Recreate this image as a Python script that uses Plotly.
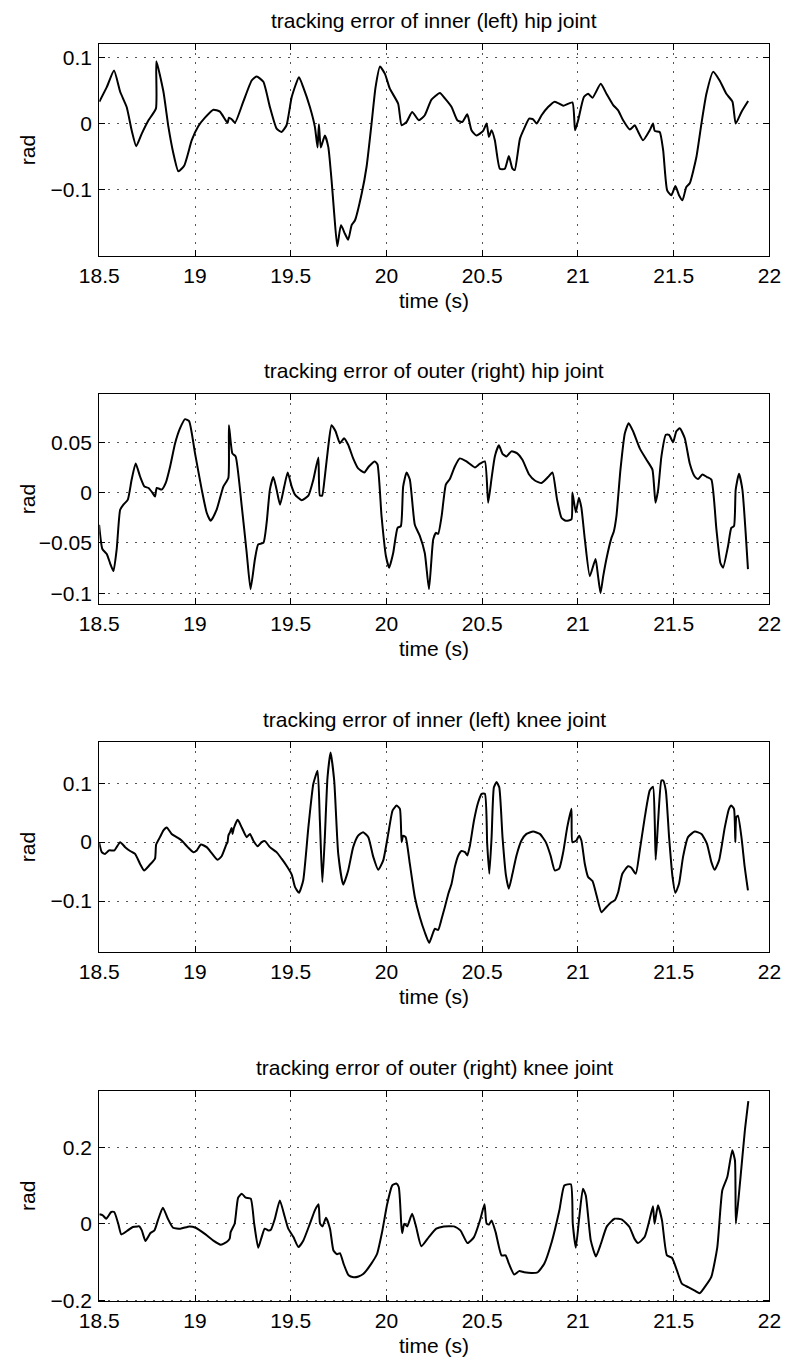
import plotly.graph_objects as go

# ---------------- data ----------------
t_hip_in = [18.5, 18.539, 18.577, 18.609, 18.643, 18.669, 18.693, 18.722, 18.757, 18.796, 18.798, 18.835, 18.861, 18.887, 18.913, 18.944, 18.983, 19.017, 19.052, 19.096, 19.13, 19.17, 19.177, 19.19, 19.209, 19.252, 19.296, 19.322, 19.357, 19.391, 19.426, 19.452, 19.478, 19.505, 19.543, 19.565, 19.6, 19.626, 19.64, 19.647, 19.657, 19.678, 19.696, 19.713, 19.727, 19.743, 19.762, 19.783, 19.8, 19.818, 19.835, 19.87, 19.896, 19.922, 19.943, 19.966, 19.992, 20.017, 20.061, 20.079, 20.105, 20.134, 20.169, 20.2, 20.235, 20.279, 20.305, 20.34, 20.37, 20.396, 20.422, 20.444, 20.47, 20.505, 20.523, 20.535, 20.549, 20.566, 20.592, 20.618, 20.639, 20.658, 20.67, 20.697, 20.723, 20.745, 20.766, 20.784, 20.81, 20.844, 20.879, 20.923, 20.971, 20.985, 21.001, 21.031, 21.053, 21.076, 21.119, 21.149, 21.184, 21.21, 21.236, 21.271, 21.297, 21.309, 21.34, 21.375, 21.392, 21.401, 21.427, 21.445, 21.466, 21.488, 21.509, 21.528, 21.546, 21.566, 21.584, 21.619, 21.645, 21.671, 21.706, 21.74, 21.775, 21.807, 21.824, 21.854, 21.889]
e_hip_in = [0.033, 0.055, 0.080, 0.048, 0.025, -0.010, -0.034, -0.015, 0.005, 0.023, 0.094, 0.048, -0.005, -0.045, -0.072, -0.063, -0.025, -0.004, 0.009, 0.021, 0.018, 0.001, 0.009, 0.007, 0.0015, 0.033, 0.065, 0.071, 0.063, 0.025, -0.0075, -0.0126, -0.0025, 0.040, 0.070, 0.055, 0.025, -0.005, -0.036, -0.001, -0.036, -0.018, -0.035, -0.085, -0.136, -0.185, -0.153, -0.166, -0.175, -0.153, -0.146, -0.106, -0.065, 0.0, 0.055, 0.086, 0.075, 0.053, 0.030, -0.0025, 0.0025, 0.0176, 0.005, 0.0126, 0.036, 0.046, 0.038, 0.025, 0.005, 0.0025, 0.014, -0.010, -0.018, -0.011, 0.0, -0.020, -0.010, -0.025, -0.068, -0.068, -0.049, -0.068, -0.070, -0.023, -0.005, 0.0075, 0.0065, 0.0, 0.0126, 0.025, 0.033, 0.027, 0.032, -0.010, 0.005, 0.040, 0.045, 0.039, 0.060, 0.045, 0.028, 0.020, 0.005, -0.009, -0.0025, -0.009, -0.025, -0.010, 0.0, -0.011, -0.0126, -0.040, -0.1005, -0.108, -0.094, -0.108, -0.1156, -0.0955, -0.090, -0.050, 0.0, 0.045, 0.078, 0.065, 0.045, 0.033, 0.0, 0.0176, 0.034]

t_hip_out = [18.499, 18.516, 18.539, 18.556, 18.574, 18.591, 18.609, 18.626, 18.649, 18.669, 18.69, 18.713, 18.736, 18.757, 18.778, 18.791, 18.8, 18.826, 18.847, 18.87, 18.896, 18.922, 18.948, 18.969, 19.0, 19.035, 19.061, 19.082, 19.113, 19.148, 19.174, 19.177, 19.195, 19.212, 19.244, 19.27, 19.29, 19.313, 19.33, 19.357, 19.374, 19.391, 19.409, 19.426, 19.444, 19.466, 19.484, 19.505, 19.522, 19.557, 19.592, 19.618, 19.644, 19.652, 19.664, 19.678, 19.696, 19.713, 19.734, 19.757, 19.778, 19.8, 19.826, 19.852, 19.884, 19.908, 19.939, 19.953, 19.974, 19.997, 20.014, 20.035, 20.058, 20.075, 20.087, 20.105, 20.122, 20.148, 20.174, 20.2, 20.222, 20.244, 20.258, 20.27, 20.288, 20.31, 20.331, 20.357, 20.383, 20.418, 20.462, 20.488, 20.514, 20.531, 20.549, 20.566, 20.587, 20.606, 20.627, 20.653, 20.683, 20.71, 20.745, 20.775, 20.81, 20.844, 20.867, 20.891, 20.914, 20.937, 20.966, 20.971, 20.989, 21.005, 21.018, 21.036, 21.062, 21.092, 21.105, 21.118, 21.132, 21.152, 21.175, 21.187, 21.201, 21.222, 21.245, 21.265, 21.288, 21.323, 21.358, 21.389, 21.405, 21.419, 21.436, 21.459, 21.476, 21.497, 21.514, 21.532, 21.558, 21.584, 21.61, 21.627, 21.65, 21.674, 21.697, 21.723, 21.744, 21.758, 21.784, 21.801, 21.815, 21.824, 21.841, 21.859, 21.876, 21.888]
e_hip_out = [-0.032, -0.056, -0.061, -0.070, -0.078, -0.056, -0.017, -0.012, -0.007, 0.013, 0.029, 0.016, 0.006, 0.0046, -0.0003, -0.004, 0.0046, 0.003, 0.0096, 0.026, 0.049, 0.064, 0.073, 0.071, 0.039, 0.003, -0.020, -0.028, -0.017, 0.006, 0.0145, 0.067, 0.039, 0.036, -0.0135, -0.060, -0.096, -0.066, -0.0515, -0.050, -0.030, 0.003, 0.0155, 0.003, -0.012, 0.006, 0.020, 0.006, -0.002, -0.0076, -0.003, 0.0129, 0.035, -0.003, -0.003, 0.016, 0.046, 0.067, 0.061, 0.049, 0.054, 0.0475, 0.034, 0.024, 0.020, 0.026, 0.031, 0.028, -0.023, -0.063, -0.0746, -0.060, -0.035, -0.0333, 0.006, 0.020, 0.013, -0.032, -0.043, -0.060, -0.096, -0.0465, -0.040, -0.041, -0.0234, 0.008, 0.0135, 0.026, 0.034, 0.031, 0.025, 0.0287, 0.031, -0.010, 0.0145, 0.036, 0.047, 0.0386, 0.036, 0.041, 0.039, 0.0327, 0.018, 0.012, 0.0096, 0.0155, 0.020, -0.007, -0.025, -0.028, -0.0267, 0.0, -0.0195, -0.005, -0.015, -0.0465, -0.083, -0.066, -0.083, -0.100, -0.083, -0.063, -0.045, -0.039, -0.0234, 0.0228, 0.059, 0.069, 0.061, 0.044, 0.0327, 0.0228, -0.010, 0.003, 0.036, 0.0574, 0.0574, 0.050, 0.061, 0.064, 0.054, 0.029, 0.016, 0.0135, 0.018, 0.0155, 0.0129, -0.036, -0.070, -0.0746, -0.053, -0.035, -0.0333, 0.003, 0.0188, 0.003, -0.040, -0.076]

t_knee_in = [18.499, 18.513, 18.53, 18.551, 18.579, 18.609, 18.635, 18.661, 18.687, 18.713, 18.734, 18.765, 18.791, 18.797, 18.817, 18.835, 18.852, 18.878, 18.904, 18.93, 18.962, 18.991, 19.009, 19.031, 19.061, 19.087, 19.118, 19.139, 19.165, 19.17, 19.174, 19.183, 19.191, 19.196, 19.203, 19.223, 19.244, 19.27, 19.287, 19.304, 19.327, 19.348, 19.365, 19.391, 19.426, 19.452, 19.478, 19.505, 19.522, 19.543, 19.565, 19.592, 19.618, 19.64, 19.652, 19.665, 19.678, 19.692, 19.708, 19.727, 19.748, 19.774, 19.8, 19.826, 19.852, 19.878, 19.905, 19.931, 19.957, 19.983, 20.009, 20.032, 20.053, 20.07, 20.079, 20.087, 20.1, 20.122, 20.148, 20.174, 20.2, 20.223, 20.244, 20.253, 20.27, 20.288, 20.305, 20.323, 20.34, 20.357, 20.375, 20.392, 20.41, 20.422, 20.436, 20.457, 20.479, 20.497, 20.514, 20.526, 20.537, 20.549, 20.561, 20.575, 20.589, 20.606, 20.624, 20.639, 20.658, 20.679, 20.705, 20.731, 20.766, 20.801, 20.832, 20.857, 20.879, 20.902, 20.923, 20.944, 20.966, 20.971, 20.992, 21.006, 21.018, 21.036, 21.053, 21.076, 21.097, 21.123, 21.149, 21.175, 21.192, 21.21, 21.232, 21.262, 21.279, 21.302, 21.323, 21.349, 21.375, 21.392, 21.401, 21.406, 21.419, 21.436, 21.445, 21.459, 21.476, 21.494, 21.509, 21.528, 21.549, 21.575, 21.61, 21.645, 21.674, 21.697, 21.714, 21.737, 21.767, 21.789, 21.801, 21.815, 21.822, 21.827, 21.836, 21.854, 21.871, 21.888]
e_knee_in = [0.0, -0.017, -0.020, -0.014, -0.014, 0.0, -0.0085, -0.015, -0.020, -0.037, -0.048, -0.038, -0.028, -0.004, 0.0085, 0.020, 0.025, 0.014, 0.0085, 0.0028, -0.0085, -0.017, -0.014, -0.004, -0.0085, -0.0186, -0.030, -0.024, -0.0028, 0.0, 0.011, 0.017, 0.024, 0.014, 0.024, 0.038, 0.025, 0.0085, 0.014, 0.0028, -0.007, 0.0, 0.0017, -0.0085, -0.017, -0.028, -0.040, -0.055, -0.076, -0.086, -0.065, 0.025, 0.099, 0.121, 0.037, -0.068, 0.0085, 0.110, 0.152, 0.104, -0.020, -0.072, -0.048, -0.0085, 0.011, 0.017, 0.0085, -0.025, -0.047, -0.031, 0.014, 0.054, 0.062, 0.0565, 0.0, 0.011, 0.0085, -0.037, -0.093, -0.127, -0.153, -0.171, -0.153, -0.147, -0.149, -0.130, -0.110, -0.0876, -0.0706, -0.042, -0.0226, -0.015, -0.017, -0.0226, -0.0056, 0.0367, 0.0678, 0.082, 0.082, -0.003, -0.0537, 0.0085, 0.093, 0.102, 0.093, 0.0085, -0.0565, -0.079, -0.0537, -0.0226, 0.0028, 0.014, 0.018, 0.014, 0.0, -0.0226, -0.048, -0.045, -0.017, 0.025, 0.0565, 0.0, 0.0028, 0.011, 0.0028, -0.037, -0.059, -0.066, -0.090, -0.119, -0.110, -0.102, -0.099, -0.085, -0.0537, -0.041, -0.0435, -0.0537, -0.014, 0.042, 0.0876, 0.094, 0.0367, -0.030, 0.0367, 0.1045, 0.1045, 0.0876, 0.0085, -0.059, -0.086, -0.0706, -0.025, 0.0085, 0.018, 0.014, -0.0028, -0.034, -0.047, -0.031, 0.025, 0.0565, 0.062, 0.0565, 0.0, 0.042, 0.045, 0.0085, -0.042, -0.082]

t_knee_out = [18.5, 18.518, 18.536, 18.562, 18.578, 18.599, 18.615, 18.649, 18.675, 18.701, 18.709, 18.722, 18.741, 18.767, 18.788, 18.806, 18.832, 18.858, 18.885, 18.924, 18.971, 19.003, 19.055, 19.094, 19.134, 19.165, 19.181, 19.186, 19.207, 19.225, 19.244, 19.265, 19.291, 19.309, 19.33, 19.348, 19.364, 19.383, 19.396, 19.417, 19.443, 19.469, 19.487, 19.514, 19.54, 19.566, 19.6, 19.626, 19.645, 19.653, 19.666, 19.684, 19.705, 19.723, 19.742, 19.757, 19.776, 19.802, 19.828, 19.854, 19.88, 19.92, 19.951, 19.977, 20.004, 20.03, 20.051, 20.064, 20.077, 20.082, 20.093, 20.108, 20.134, 20.155, 20.182, 20.221, 20.26, 20.3, 20.352, 20.386, 20.423, 20.457, 20.491, 20.512, 20.523, 20.536, 20.549, 20.57, 20.601, 20.622, 20.64, 20.667, 20.693, 20.719, 20.758, 20.79, 20.824, 20.863, 20.903, 20.929, 20.963, 20.973, 20.989, 21.007, 21.026, 21.041, 21.067, 21.094, 21.12, 21.151, 21.191, 21.23, 21.269, 21.295, 21.314, 21.348, 21.374, 21.392, 21.4, 21.418, 21.439, 21.465, 21.491, 21.517, 21.543, 21.576, 21.61, 21.636, 21.662, 21.696, 21.728, 21.754, 21.78, 21.806, 21.82, 21.825, 21.846, 21.872, 21.89]
e_knee_out = [0.0245, 0.022, 0.013, 0.0306, 0.0306, 0.0, -0.028, -0.0175, -0.0087, -0.007, -0.007, -0.0175, -0.045, -0.0245, -0.0175, 0.0087, 0.042, 0.013, -0.0105, -0.013, -0.007, -0.0105, -0.028, -0.0437, -0.055, -0.048, -0.039, -0.022, 0.0, 0.068, 0.0786, 0.068, 0.0655, 0.0, -0.063, -0.035, -0.013, -0.0175, -0.016, 0.013, 0.061, 0.0175, -0.013, -0.035, -0.061, -0.0437, 0.0, 0.035, 0.0507, 0.0, -0.007, 0.0157, -0.013, -0.070, -0.080, -0.077, -0.105, -0.135, -0.140, -0.138, -0.131, -0.105, -0.0786, -0.022, 0.052, 0.100, 0.105, 0.096, 0.0, -0.0245, 0.0, -0.007, 0.026, -0.0087, -0.059, -0.035, -0.013, -0.007, -0.007, -0.0175, -0.0507, -0.035, 0.013, 0.0507, 0.0, -0.002, 0.0087, -0.022, -0.083, -0.083, -0.105, -0.133, -0.124, -0.127, -0.129, -0.127, -0.105, -0.048, 0.035, 0.100, 0.103, 0.0, -0.063, 0.0175, 0.0917, 0.074, -0.0437, -0.0856, -0.0524, -0.007, 0.013, 0.0105, -0.0087, -0.039, -0.0507, -0.035, 0.0105, 0.0454, 0.0, 0.048, 0.0087, -0.083, -0.089, -0.122, -0.157, -0.166, -0.175, -0.182, -0.166, -0.14, -0.061, 0.0873, 0.122, 0.192, 0.166, 0.0, 0.105, 0.2445, 0.321]

titles = ["tracking error of inner (left) hip joint",
          "tracking error of outer (right) hip joint",
          "tracking error of inner (left) knee joint",
          "tracking error of outer (right) knee joint"]
x_ticks = [18.5, 19, 19.5, 20, 20.5, 21, 21.5, 22]
x_ticktext = ["18.5", "19", "19.5", "20", "20.5", "21", "21.5", "22"]
y_ticks = [[-0.1, 0, 0.1], [-0.1, -0.05, 0, 0.05], [-0.1, 0, 0.1], [-0.2, 0, 0.2]]
y_ticktext = [["\u22120.1", "0", "0.1"], ["\u22120.1", "\u22120.05", "0", "0.05"],
              ["\u22120.1", "0", "0.1"], ["\u22120.2", "0", "0.2"]]
y_ranges = [[-0.2, 0.12], [-0.111, 0.098], [-0.187, 0.17], [-0.203, 0.348]]
series_t = [t_hip_in, t_hip_out, t_knee_in, t_knee_out]
series_e = [e_hip_in, e_hip_out, e_knee_in, e_knee_out]

# ---------------- layout ----------------
W, H = 787, 1360
FONT = "Liberation Sans, Arial, Helvetica, sans-serif"
x_left, x_right = 99.3, 769.4
panel_px = [(44.0, 256.3), (394.0, 604.3), (742.0, 952.3), (1090.7, 1301.3)]

fig = go.Figure()
layout = dict(width=W, height=H, margin=dict(l=0, r=0, t=0, b=0, autoexpand=False),
              paper_bgcolor="white", plot_bgcolor="white", showlegend=False,
              font=dict(family=FONT, size=21, color="black"))
annotations = []
for i in range(4):
    n = "" if i == 0 else str(i + 1)
    fig.add_trace(go.Scatter(x=series_t[i], y=series_e[i], mode="lines",
                             line=dict(color="black", width=2, shape="spline", smoothing=0.5),
                             xaxis="x" + n, yaxis="y" + n, hoverinfo="skip"))
    top, bot = panel_px[i]
    axcommon = dict(showline=True, linecolor="black", linewidth=1.3, mirror="allticks",
                    ticks="inside", ticklen=6, tickwidth=1, tickcolor="black",
                    showgrid=True, gridcolor="#555555", gridwidth=1, griddash="2px,7px",
                    zeroline=False, automargin=False,
                    tickfont=dict(family=FONT, size=21, color="black"))
    layout["xaxis" + n] = dict(axcommon, domain=[x_left / W, x_right / W], range=[18.5, 22],
                               tickmode="array", tickvals=x_ticks, ticktext=x_ticktext,
                               anchor="y" + n)
    layout["yaxis" + n] = dict(axcommon, domain=[1 - bot / H, 1 - top / H], range=y_ranges[i],
                               tickmode="array", tickvals=y_ticks[i], ticktext=y_ticktext[i],
                               anchor="x" + n, ticklabelstandoff=2)
    xc = (x_left + x_right) / 2 / W
    annotations.append(dict(text=titles[i], x=xc, y=1 - (top - 23) / H, xref="paper", yref="paper",
                            showarrow=False, xanchor="center", yanchor="middle",
                            font=dict(family=FONT, size=21, color="black")))
    annotations.append(dict(text="time (s)", x=xc, y=1 - (bot + 44) / H, xref="paper", yref="paper",
                            showarrow=False, xanchor="center", yanchor="middle",
                            font=dict(family=FONT, size=21, color="black")))
    annotations.append(dict(text="rad", x=27 / W, y=1 - (top + bot) / 2 / H, xref="paper", yref="paper",
                            showarrow=False, xanchor="center", yanchor="middle", textangle=-90,
                            font=dict(family=FONT, size=21, color="black")))
layout["annotations"] = annotations
fig.update_layout(**layout)
fig.write_html("out.html")
